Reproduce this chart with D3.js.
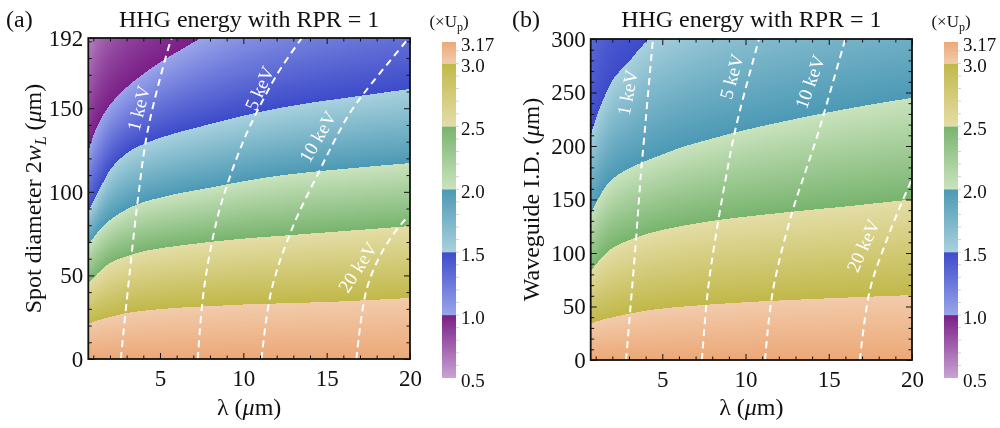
<!DOCTYPE html>
<html><head><meta charset="utf-8">
<script src="https://cdn.jsdelivr.net/npm/d3@7"></script>
<style>
body{margin:0;background:#fff;}
#wrap{position:relative;width:1000px;height:428px;overflow:hidden;}
canvas,svg{position:absolute;left:0;top:0;}
text{font-family:"Liberation Serif","Times New Roman",serif;fill:#111;}
</style></head><body>
<div id="wrap"><canvas id="cv" width="1000" height="428"></canvas><svg id="sv" width="1000" height="428"></svg></div>
<script>
// ---------------- DATA ----------------
const lambdaGrid = [0.7, 1, 1.5, 2, 3, 4, 5, 6, 8, 10, 12, 14, 16, 18, 20];   // λ (µm)
const contourLevels = [3.17, 3.0, 2.5, 2.0, 1.5, 1.0, 0.5];                  // ×Up

// Panel (a): spot diameter 2wL (µm) at which the cutoff equals each level, per lambdaGrid
const spotC317 = [0, 0, 0, 0, 0, 0, 0, 0, 0, 0, 0, 0, 0, 0, 0];
const spotC300 = [21, 22.2, 23.8, 25.1, 27.5, 28.8, 29.8, 30.6, 31.6, 32.6, 33.2, 33.8, 34.5, 35.5, 36.5];
const spotC250 = [45, 48.5, 53.5, 57.4, 61.5, 64.4, 66.2, 67.6, 70, 72, 73.5, 75, 76.5, 78, 79.5];
const spotC200 = [68, 72.5, 78.5, 83.1, 89.5, 93.8, 96.5, 98.8, 102.5, 106.3, 109.5, 111.8, 113.7, 115.5, 117.2];
const spotC150 = [88, 94, 104, 113, 123, 128.5, 132.2, 135.3, 140.5, 145.5, 149.8, 153.2, 156, 158.8, 161.5];
const spotC100 = [124, 133.5, 144.5, 152, 162.5, 170.5, 177.5, 183.5, 195, 205, 213, 220, 227, 233, 239];
const spotC050 = [209, 222, 238, 250, 268, 282, 295, 306, 325, 342, 356, 369, 381, 392, 402];

// Panel (b): waveguide I.D. (µm) at which the cutoff equals each level
const wgC317 = [0, 0, 0, 0, 0, 0, 0, 0, 0, 0, 0, 0, 0, 0, 0];
const wgC300 = [34, 35.8, 38, 39.8, 43.2, 46, 48.1, 49.6, 52, 54, 55.6, 57, 58.3, 59.5, 60.7];
const wgC250 = [83, 89, 98, 104.5, 112, 117.5, 121.5, 124.8, 130, 134, 137.3, 140.5, 143.5, 146.8, 150];
const wgC200 = [137, 146, 160, 169, 179, 186, 192, 198, 207, 215, 222, 228.5, 234.5, 240, 245];
const wgC150 = [210, 225, 245, 261, 279, 297, 310, 320, 337, 350, 361, 370, 378, 385, 392];
const wgC100 = [470, 490, 520, 545, 580, 610, 635, 655, 690, 720, 745, 765, 785, 800, 815];

// Iso-photon-energy lines [λ, size]
const keVNames = ["1 keV", "5 keV", "10 keV", "20 keV"];
const spotKeV1  = [[2.65,0],[3.01,35.3],[3.67,95.1],[4.27,137],[5.47,184.8],[5.71,192]];
const spotKeV5  = [[7.27,0],[7.63,41.3],[8.41,83.1],[9.13,107],[10.03,131],[10.87,148.9],[12.07,171],[13.51,192]];
const spotKeV10 = [[11.09,0],[11.69,41.3],[12.97,79.1],[14.59,113],[15.49,131],[16.39,147.1],[17.39,160.9],[19.93,192]];
const spotKeV20 = [[16.79,0],[17.39,41.3],[18.39,65.2],[19.69,83.1],[20,85.5]];
const wgKeV1  = [[2.82,0],[3.06,43.9],[3.42,112.1],[3.72,174.8],[3.9,205.6],[4.11,243],[4.44,300]];
const wgKeV5  = [[7.38,0],[7.74,65.4],[8.34,128],[8.94,180.4],[9.25,205.6],[9.67,233.6],[10.81,300]];
const wgKeV10 = [[11.17,0],[11.65,65.4],[12.79,137.4],[13.57,174.8],[14.23,205.6],[14.77,233.6],[15.99,300]];
const wgKeV20 = [[16.87,0],[17.47,65.4],[18.48,112.1],[19.28,143.3],[20,169.2]];

// tick labels
const xTicks = [5, 10, 15, 20];
const spotTicks = [0, 50, 100, 150, 192];
const wgTicks = [0, 50, 100, 150, 200, 250, 300];
const barTicks = [0.5, 1.0, 1.5, 2.0, 2.5, 3.0, 3.17];

// colour bands: [low value, high value, colour at low, colour at high]
const bandLo = [0.5, 1.0, 1.5, 2.0, 2.5, 3.0];
const bandHi = [1.0, 1.5, 2.0, 2.5, 3.0, 3.17];
const bandLight = ["#c9a3d3", "#9aa5ea", "#a8d1dd", "#cae3be", "#e4dda7", "#f2cbab"];
const bandDark  = ["#7a1f88", "#3d4bca", "#4c99b5", "#78b46e", "#c1b849", "#eca877"];

// label placement (λ, size, angle)
const spotLabelPos = [[3.7,150,-76],[10.95,162,-66],[14.45,133,-60],[16.85,55,-57]];
const wgLabelPos   = [[2.9,250,-79],[9.15,265,-75],[13.85,260,-70],[17.05,107,-66]];

// ---------------- RENDER ----------------
function monotoneInterp(xs, ys){
  const n = xs.length, d = [], m = new Array(n);
  for (let i=0;i<n-1;i++) d.push((ys[i+1]-ys[i])/(xs[i+1]-xs[i]));
  m[0]=d[0]; m[n-1]=d[n-2];
  for (let i=1;i<n-1;i++) m[i] = d[i-1]*d[i] <= 0 ? 0 : (d[i-1]+d[i])/2;
  for (let i=0;i<n-1;i++){
    if (d[i]===0){ m[i]=m[i+1]=0; continue; }
    const a=m[i]/d[i], b=m[i+1]/d[i], s=a*a+b*b;
    if (s>9){ const t=3/Math.sqrt(s); m[i]=t*a*d[i]; m[i+1]=t*b*d[i]; }
  }
  return function(x){
    let i = d3.bisectRight(xs, x)-1; i=Math.max(0,Math.min(n-2,i));
    const h=xs[i+1]-xs[i], t=(x-xs[i])/h, t2=t*t, t3=t2*t;
    return (2*t3-3*t2+1)*ys[i]+(t3-2*t2+t)*h*m[i]+(-2*t3+3*t2)*ys[i+1]+(t3-t2)*h*m[i+1];
  };
}
const bandRGB = bandLo.map((_,i)=>[d3.rgb(bandLight[i]), d3.rgb(bandDark[i])]);
function colorOf(v){
  let i = d3.bisectRight(bandLo, v)-1; i=Math.max(0,Math.min(bandLo.length-1,i));
  let t=(v-bandLo[i])/(bandHi[i]-bandLo[i]); t=Math.max(0,Math.min(1,t));
  const [a,b]=bandRGB[i];
  return [a.r+(b.r-a.r)*t, a.g+(b.g-a.g)*t, a.b+(b.b-a.b)*t];
}

const svg = d3.select("#sv");
const ctx = document.getElementById("cv").getContext("2d");
const img = ctx.createImageData(1000, 428);
for (let k=0;k<img.data.length;k+=4){ img.data[k]=255; img.data[k+1]=255; img.data[k+2]=255; img.data[k+3]=255; }

function panel(cfg){
  const x = d3.scaleLinear().domain([0.7,20]).range([cfg.left, cfg.right]);
  const y = d3.scaleLinear().domain([0,cfg.ymax]).range([cfg.bottom, cfg.top]);
  const fns = cfg.contours.map(c=>monotoneInterp(lambdaGrid, c));
  const levels = contourLevels.slice(0, cfg.contours.length);
  // field
  for (let px=Math.floor(cfg.left); px<Math.ceil(cfg.right); px++){
    const lam = x.invert(px+0.5);
    const Ds = fns.map(f=>f(lam)); Ds[0]=0;
    for (let py=Math.floor(cfg.top); py<Math.ceil(cfg.bottom); py++){
      const D = y.invert(py+0.5);
      let v;
      let i = 0; while (i < Ds.length-1 && D >= Ds[i+1]) i++;
      if (i >= Ds.length-1) v = levels[levels.length-1];
      else v = levels[i] + (levels[i+1]-levels[i])*(D-Ds[i])/(Ds[i+1]-Ds[i]);
      const c = colorOf(v);
      const k = (py*1000+px)*4;
      img.data[k]=c[0]; img.data[k+1]=c[1]; img.data[k+2]=c[2];
    }
  }
  const g = svg.append("g");
  const clipId = "clip"+cfg.id;
  svg.append("clipPath").attr("id", clipId).append("rect")
    .attr("x", cfg.left).attr("y", cfg.top).attr("width", cfg.right-cfg.left).attr("height", cfg.bottom-cfg.top);
  // keV dashed lines
  const line = d3.line().x(d=>x(d[0])).y(d=>y(d[1])).curve(d3.curveCatmullRom.alpha(0.5));
  g.append("g").attr("clip-path", `url(#${clipId})`).selectAll("path").data(cfg.keV).join("path")
    .attr("d", line).attr("fill","none").attr("stroke","#fff").attr("stroke-width",2)
    .attr("stroke-dasharray","7,5");
  g.selectAll("text.kev").data(cfg.labelPos).join("text").attr("class","kev")
    .attr("transform", d=>`translate(${x(d[0])},${y(d[1])}) rotate(${d[2]})`)
    .attr("text-anchor","middle").attr("dy","0.35em")
    .style("font-size","19px").style("fill","#fff")
    .text((d,i)=>keVNames[i]);
  // frame ticks
  const xMinor = d3.range(1,20).filter(v=>v%5!==0);
  const yMinor = d3.range(10, cfg.ymax, 10).filter(v=>v%50!==0);
  const tickStyle = s => s.call(a=>a.select(".domain").remove()).selectAll("line").attr("stroke","#111").attr("stroke-width",1);
  g.append("g").attr("transform",`translate(0,${cfg.bottom})`)
    .call(d3.axisBottom(x).tickValues(xTicks).tickSize(-6).tickPadding(11).tickFormat(d3.format("d")))
    .call(tickStyle).selectAll("text").style("font-size","23px").attr("font-family",null);
  g.append("g").attr("transform",`translate(0,${cfg.bottom})`)
    .call(d3.axisBottom(x).tickValues(xMinor).tickSize(-3.5).tickFormat("")).call(tickStyle);
  g.append("g").attr("transform",`translate(0,${cfg.top})`)
    .call(d3.axisTop(x).tickValues(xTicks).tickSize(-6).tickFormat("")).call(tickStyle);
  g.append("g").attr("transform",`translate(0,${cfg.top})`)
    .call(d3.axisTop(x).tickValues(xMinor).tickSize(-3.5).tickFormat("")).call(tickStyle);
  g.append("g").attr("transform",`translate(${cfg.left},0)`)
    .call(d3.axisLeft(y).tickValues(cfg.yTicks).tickSize(-6).tickPadding(5).tickFormat(d3.format("d")))
    .call(tickStyle).selectAll("text").style("font-size","23px").attr("font-family",null);
  g.append("g").attr("transform",`translate(${cfg.left},0)`)
    .call(d3.axisLeft(y).tickValues(yMinor).tickSize(-3.5).tickFormat("")).call(tickStyle);
  g.append("g").attr("transform",`translate(${cfg.right},0)`)
    .call(d3.axisRight(y).tickValues(cfg.yTicks).tickSize(-6).tickFormat("")).call(tickStyle);
  g.append("g").attr("transform",`translate(${cfg.right},0)`)
    .call(d3.axisRight(y).tickValues(yMinor).tickSize(-3.5).tickFormat("")).call(tickStyle);
  g.selectAll(".tick text").style("fill","#111");
  g.append("rect").attr("x",cfg.left).attr("y",cfg.top).attr("width",cfg.right-cfg.left).attr("height",cfg.bottom-cfg.top)
    .attr("fill","none").attr("stroke","#111").attr("stroke-width",1.8);
  // titles
  const cx = (cfg.left+cfg.right)/2;
  g.append("text").attr("x",cfg.tagX).attr("y",27).style("font-size","24px").text(cfg.tag);
  g.append("text").attr("x",cx).attr("y",27).attr("text-anchor","middle").style("font-size","24px").text("HHG energy with RPR = 1");
  const xl = g.append("text").attr("x",cx).attr("y",415).attr("text-anchor","middle").style("font-size","24px");
  xl.append("tspan").text("λ (");
  xl.append("tspan").style("font-style","italic").text("μ");
  xl.append("tspan").text("m)");
  const yl = g.append("text").attr("transform",`translate(${cfg.ytitleX},${(cfg.top+cfg.bottom)/2}) rotate(-90)`)
    .attr("text-anchor","middle").style("font-size","24px");
  cfg.ytitle(yl);
  // colour bar
  const cb = d3.scaleLinear().domain([0.5,3.17]).range([378,42]);
  const defs = svg.append("defs");
  bandLo.forEach((lo,i)=>{
    const gid = `grad${cfg.id}${i}`;
    const lg = defs.append("linearGradient").attr("id",gid).attr("x1",0).attr("y1",1).attr("x2",0).attr("y2",0);
    lg.append("stop").attr("offset",0).attr("stop-color",bandLight[i]);
    lg.append("stop").attr("offset",1).attr("stop-color",bandDark[i]);
    g.append("rect").attr("x",cfg.barX).attr("width",14).attr("y",cb(bandHi[i])).attr("height",cb(lo)-cb(bandHi[i]))
      .attr("fill",`url(#${gid})`);
  });
  g.selectAll("line.cbt").data(d3.range(0.6,3.15,0.1)).join("line").attr("class","cbt")
    .attr("x1",cfg.barX+14).attr("x2",cfg.barX+17).attr("y1",d=>cb(d)).attr("y2",d=>cb(d))
    .attr("stroke","#c8c8c8").attr("stroke-width",0.8);
  g.selectAll("text.cbl").data(barTicks).join("text").attr("class","cbl")
    .attr("x",cfg.barX+19).attr("y",d=>cb(d)+2).attr("dy","0.35em").style("font-size","19px")
    .text(d=>d===3.17?"3.17":d3.format(".1f")(d));
  const ut = g.append("text").attr("x",cfg.barX+7).attr("y",27).attr("text-anchor","middle").style("font-size","17px");
  ut.append("tspan").text("(×U");
  ut.append("tspan").attr("dy",4).style("font-size","12px").text("p");
  ut.append("tspan").attr("dy",-4).text(")");
}

panel({id:"a", left:88.3, right:410, top:38, bottom:359, ymax:192, yTicks:spotTicks,
  contours:[spotC317,spotC300,spotC250,spotC200,spotC150,spotC100,spotC050],
  keV:[spotKeV1,spotKeV5,spotKeV10,spotKeV20], labelPos:spotLabelPos,
  tag:"(a)", tagX:6, barX:442, ytitleX:41,
  ytitle: t=>{ t.append("tspan").text("Spot diameter 2");
    t.append("tspan").style("font-style","italic").text("w");
    t.append("tspan").style("font-style","italic").style("font-size","16px").attr("dy",5).text("L");
    t.append("tspan").attr("dy",-5).text(" (");
    t.append("tspan").style("font-style","italic").text("μ");
    t.append("tspan").text("m)"); }});
panel({id:"b", left:590.7, right:912, top:39, bottom:360, ymax:300, yTicks:wgTicks,
  contours:[wgC317,wgC300,wgC250,wgC200,wgC150,wgC100],
  keV:[wgKeV1,wgKeV5,wgKeV10,wgKeV20], labelPos:wgLabelPos,
  tag:"(b)", tagX:512, barX:944, ytitleX:539,
  ytitle: t=>{ t.append("tspan").text("Waveguide I.D. (");
    t.append("tspan").style("font-style","italic").text("μ");
    t.append("tspan").text("m)"); }});
ctx.putImageData(img,0,0);
</script></body></html>
